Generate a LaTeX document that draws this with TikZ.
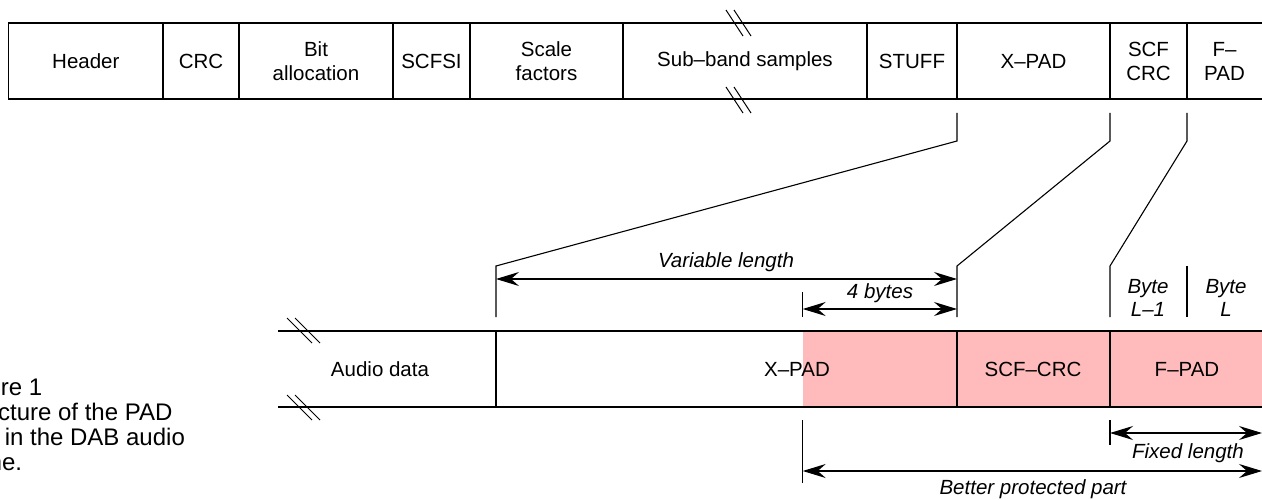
\documentclass[tikz,border=0pt]{standalone}
\usepackage{fontspec}
\setmainfont{Liberation Sans}
\usetikzlibrary{arrows.meta}
\definecolor{pinkfill}{RGB}{255,187,187}
\begin{document}
\begin{tikzpicture}[x=1pt,y=-1pt,line width=1.2pt,
  txt/.style={inner sep=0pt,align=center,font=\fontsize{20.5}{24}\selectfont},
  itxt/.style={inner sep=0pt,align=center,font=\fontsize{20.5}{23}\selectfont\itshape},
  captxt/.style={inner sep=0pt,anchor=base west,font=\fontsize{24}{26}\selectfont},
  fieldbox/.style={draw,line width=1.2pt,minimum height=76pt,anchor=north west,inner sep=0pt,outer sep=0pt,align=center,font=\fontsize{20.5}{24}\selectfont},
  dim/.style={{Stealth[length=23pt,width=14pt,inset=8pt]}-{Stealth[length=23pt,width=14pt,inset=8pt]},line width=1.2pt},
  brk/.style={line width=1pt},
  guide/.style={line width=1.1pt}]
\clip (0,0) rectangle (1262,500);
% ---------- top frame ----------
\node[fieldbox,minimum width=154.3pt] (hdr) at (8.7,23) {Header};
\node[fieldbox,minimum width=76pt] (crc) at (163,23) {CRC};
\node[fieldbox,minimum width=154pt] (bita) at (239,23) {Bit\\allocation};
\node[fieldbox,minimum width=77pt] (scfsi) at (393,23) {SCFSI};
\node[fieldbox,minimum width=153pt] (scalef) at (470,23) {Scale\\factors};
\node[fieldbox,minimum width=244pt] (subband) at (623,23) {Sub--band samples};
\node[fieldbox,minimum width=90pt] (stuff) at (867,23) {STUFF};
\node[fieldbox,minimum width=153pt] (xpadT) at (957,23) {X--PAD};
\node[fieldbox,minimum width=77pt] (scfcrcT) at (1110,23) {SCF\\CRC};
\node[fieldbox,draw=none,minimum width=75pt] (fpadT) at (1187,23) {F--\\PAD};
\draw (fpadT.north west) -- (1270,23);
\draw (fpadT.south west) -- (1270,99);
% break marks on top frame
\draw[brk] (726,10) -- (743,36) (734,10) -- (751,36);
\draw[brk] (726,87) -- (743,113) (734,87) -- (751,113);
% ---------- lower frame ----------
\fill[pinkfill] (802.7,331) rectangle (1270,407);
\draw (278,331) -- (1270,331);
\draw (278,407) -- (1270,407);
\coordinate (d1t) at (496,331); \coordinate (d1b) at (496,407);
\coordinate (d2t) at (957,331); \coordinate (d2b) at (957,407);
\coordinate (d3t) at (1110,331); \coordinate (d3b) at (1110,407);
\draw (d1t) -- (d1b) (d2t) -- (d2b) (d3t) -- (d3b);
\draw[brk] (287,318) -- (312,343) (295,318) -- (320,343);
\draw[brk] (287,395) -- (312,420) (295,395) -- (320,420);
\node[txt] (audio) at (380,369) {Audio data};
\node[txt] (xpadL) at (797,369) {X--PAD};
\node[txt] (scfcrcL) at (1033,369) {SCF--CRC};
\node[txt] (fpadL) at (1187,369) {F--PAD};
% ---------- mapping lines ----------
\coordinate (m1) at (957,113); \coordinate (m2) at (1110,113); \coordinate (m3) at (1187,113);
\coordinate (n1) at (496,266); \coordinate (n2) at (957,266); \coordinate (n3) at (1110,266);
\draw[guide] (m1) -- ++(0,28) -- (n1) -- (496,317);
\draw[guide] (m2) -- ++(0,28) -- (n2) -- (957,317);
\draw[guide] (m3) -- ++(0,28) -- (n3) -- (1110,317);
\draw[guide] (1187,266) -- (1187,317);
\draw[guide] (802.7,292) -- (802.7,317);
% ---------- dimensions ----------
\coordinate (v1) at (496,279); \coordinate (v2) at (957,279);
\draw[dim] (v1) -- (v2);
\node[itxt] (varlen) at (726,262) {Variable length};
\coordinate (b1) at (802.7,309); \coordinate (b2) at (957,309);
\draw[dim] (b1) -- (b2);
\node[itxt] (fourb) at (880,293) {4 bytes};
\node[itxt] (bytel1) at (1148,298) {Byte\\L--1};
\node[itxt] (bytel) at (1226,298) {Byte\\L};
\draw[guide] (1110,420) -- (1110,445);
\draw[guide] (802.7,420) -- (802.7,483);
\coordinate (f1) at (1110,433); \coordinate (f2) at (1262,433);
\draw[dim] (f1) -- (f2);
\node[itxt] (fixlen) at (1188,453) {Fixed length};
\coordinate (p1) at (802.7,471); \coordinate (p2) at (1262,471);
\draw[dim] (p1) -- (p2);
\node[itxt] (better) at (1033,489) {Better protected part};
% ---------- caption ----------
\node[captxt] (cap1) at (-46.5,395) {Figure 1};
\node[captxt] (cap2) at (-46.5,420) {Structure of the PAD};
\node[captxt] (cap3) at (-46.5,445) {field in the DAB audio};
\node[captxt] (cap4) at (-46.5,470) {frame.};
\end{tikzpicture}
\end{document}
